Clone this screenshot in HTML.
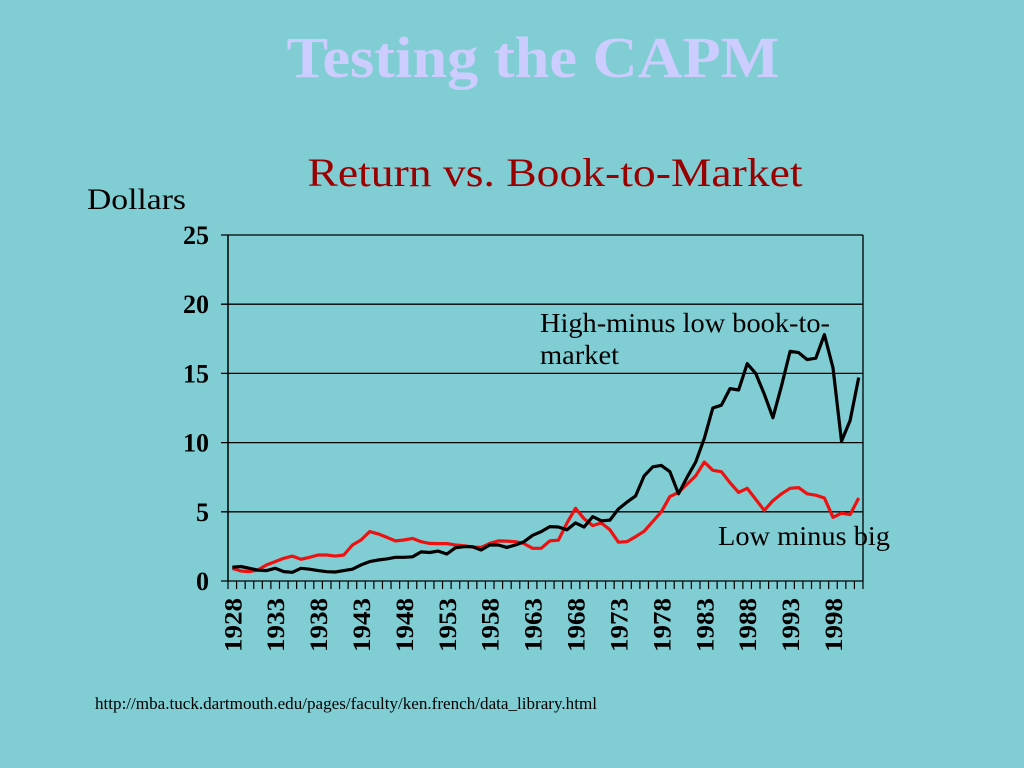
<!DOCTYPE html>
<html><head><meta charset="utf-8"><style>
html,body{margin:0;padding:0;background:#80ced4;}
svg{display:block;font-family:"Liberation Serif",serif;}
</style></head><body>
<svg width="1024" height="768" viewBox="0 0 1024 768">
<rect width="1024" height="768" fill="#80ced4"/>
<text x="533" y="77" text-anchor="middle" font-size="58" font-weight="bold" fill="#ccccff" textLength="493" lengthAdjust="spacingAndGlyphs">Testing the CAPM</text>
<text x="555" y="186" text-anchor="middle" font-size="40" fill="#990000" textLength="495" lengthAdjust="spacingAndGlyphs">Return vs. Book-to-Market</text>
<text x="87" y="209" font-size="30" fill="#000" textLength="99" lengthAdjust="spacingAndGlyphs">Dollars</text>
<g id="chart"></g>
<text x="540" y="332" font-size="27" fill="#000" textLength="290" lengthAdjust="spacingAndGlyphs">High-minus low book-to-</text>
<text x="540" y="364" font-size="27" fill="#000" textLength="79" lengthAdjust="spacingAndGlyphs">market</text>
<text x="718" y="545" font-size="27" fill="#000" textLength="172" lengthAdjust="spacingAndGlyphs">Low minus big</text>
<text x="95" y="709" font-size="17" fill="#000" textLength="502" lengthAdjust="spacingAndGlyphs">http://mba.tuck.dartmouth.edu/pages/faculty/ken.french/data_library.html</text>
</svg>
<script>
const years = [];
for (let y = 1928; y <= 2001; y++) years.push(y);
const yTicks = [0, 5, 10, 15, 20, 25];
const hml = [1.0,1.05,0.92,0.78,0.75,0.92,0.68,0.63,0.92,0.85,0.75,0.67,0.65,0.75,0.85,1.16,1.4,1.52,1.6,1.71,1.71,1.75,2.1,2.06,2.16,1.95,2.4,2.48,2.48,2.24,2.6,2.6,2.43,2.6,2.84,3.3,3.57,3.93,3.9,3.7,4.2,3.9,4.65,4.35,4.4,5.2,5.7,6.15,7.6,8.25,8.35,7.9,6.3,7.5,8.6,10.3,12.5,12.7,13.9,13.8,15.7,15.0,13.5,11.8,14.1,16.6,16.5,16.0,16.1,17.8,15.4,10.1,11.6,14.7];
const smb = [0.92,0.72,0.68,0.8,1.16,1.4,1.64,1.8,1.57,1.71,1.88,1.88,1.8,1.88,2.6,2.96,3.57,3.4,3.16,2.9,2.96,3.08,2.84,2.72,2.7,2.7,2.6,2.55,2.45,2.43,2.72,2.9,2.88,2.84,2.7,2.36,2.36,2.9,2.95,4.2,5.25,4.5,4.0,4.2,3.7,2.8,2.85,3.2,3.6,4.3,5.0,6.1,6.4,7.0,7.6,8.6,8.0,7.9,7.1,6.4,6.7,5.9,5.1,5.8,6.3,6.7,6.75,6.3,6.2,6.0,4.6,4.9,4.8,6.0];

const NS = "http://www.w3.org/2000/svg";
const g = document.getElementById("chart");
const L = 228, R = 863, T = 235, B = 581;
const step = (R - L) / years.length;
const xOf = i => L + step * (i + 0.5);
const yOf = v => B - (v / 25) * (B - T);
function mk(tag, attrs) {
  const e = document.createElementNS(NS, tag);
  for (const k in attrs) e.setAttribute(k, attrs[k]);
  g.appendChild(e);
  return e;
}
yTicks.forEach(v => {
  const ln = mk("line", {x1: L - 7, x2: R, y1: yOf(v), y2: yOf(v), stroke: "#000", "stroke-width": 1.3});
  
  
  const t = mk("text", {x: 209, y: yOf(v) + 9, "text-anchor": "end", "font-size": 26, "font-weight": "bold"});
  t.textContent = v;
  
  
});
const ya = mk("line", {x1: L, x2: L, y1: T, y2: B, stroke: "#000", "stroke-width": 1.5});


const yr = mk("line", {x1: R, x2: R, y1: T, y2: B, stroke: "#000", "stroke-width": 1.3});


for (let i = 0; i <= years.length; i++) {
  const tk = mk("line", {x1: L + step * i, x2: L + step * i, y1: B, y2: B + 8, stroke: "#000", "stroke-width": 1.2});
  
  
}
years.forEach((yr, i) => {
  if ((yr - 1928) % 5 !== 0) return;
  const x = xOf(i) + 9, y = 598;
  const t = mk("text", {x: x, y: y, "text-anchor": "end", "font-size": 25, "font-weight": "bold", textLength: 54, lengthAdjust: "spacingAndGlyphs", transform: `rotate(-90 ${x} ${y})`});
  t.textContent = yr;
  
  
});
function series(vals, color, name) {
  const d = vals.map((v, i) => (i ? "L" : "M") + xOf(i).toFixed(1) + "," + yOf(v).toFixed(1)).join(" ");
  const p = mk("path", {d: d, fill: "none", stroke: color, "stroke-width": 3.2, "stroke-linejoin": "round"});
  
  
}
series(smb, "#ee1111", "smb-line");
series(hml, "#000000", "hml-line");
</script>
</body></html>
